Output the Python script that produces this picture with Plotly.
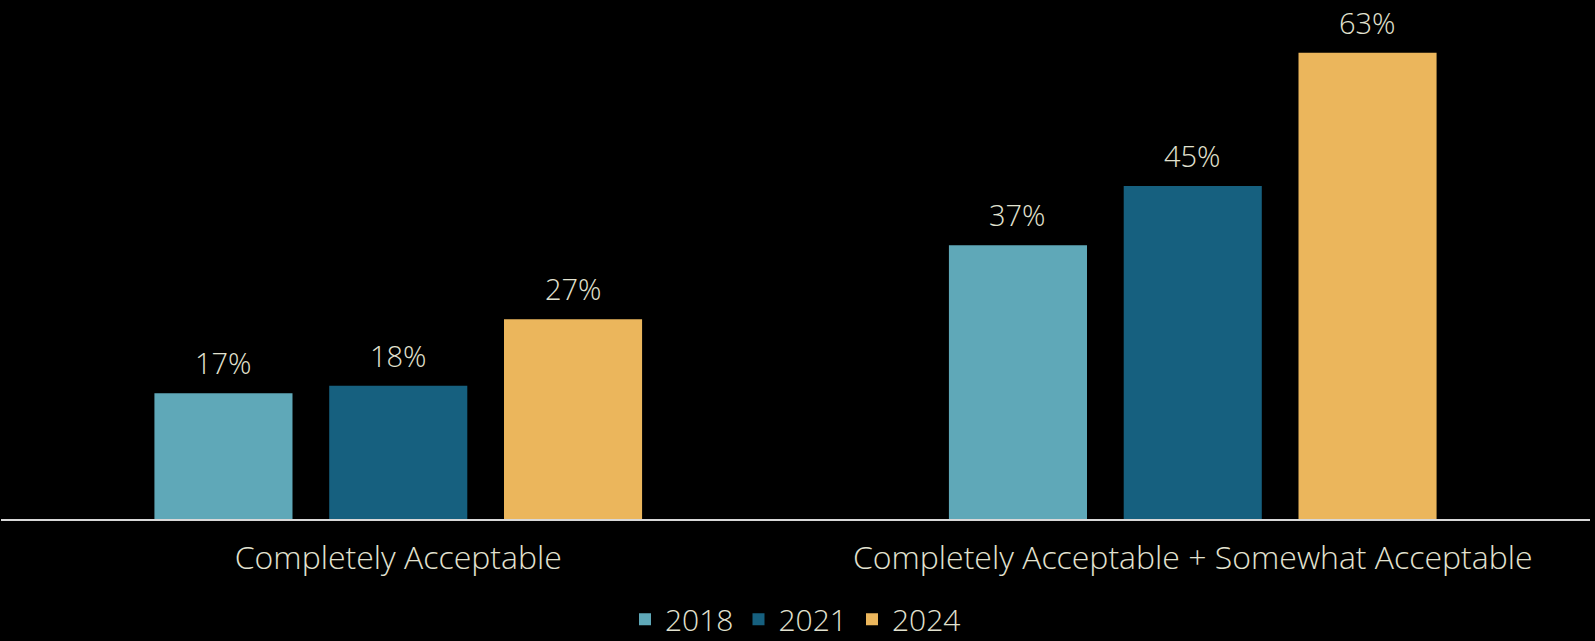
import plotly.graph_objects as go

categories = ['Completely Acceptable', 'Completely Acceptable + Somewhat Acceptable']
years = ['2018', '2021', '2024']
values_2018 = [17, 37]
values_2021 = [18, 45]
values_2024 = [27, 63]
colors = ['#5fa8b8', '#16607f', '#ebb65c']

text_color = '#e2e2d0'
font_family = 'Open Sans, sans-serif'
font_size = 32
bargap = 0.34

fig = go.Figure()
series = [values_2018, values_2021, values_2024]
for name, vals, col in zip(years, series, colors):
    fig.add_trace(go.Bar(
        x = categories,
        y = vals,
        name = name,
        marker_color = col,
        marker_line_width = 0,
    ))

# value labels above the bars, a bit further up than plotly's outside text
slot = (1 - bargap) / len(years)
for i, vals in enumerate(series):
    for ci, v in enumerate(vals):
        fig.add_annotation(
            x = ci + (i - 1) * slot,
            y = v,
            text = f'{v}%',
            showarrow = False,
            yanchor = 'bottom',
            yshift = 9,
            font = dict(size = 29, color = text_color,
                        family = font_family, weight = 300),
        )

fig.update_layout(
    width = 1595,
    height = 641,
    paper_bgcolor = 'black',
    plot_bgcolor = 'black',
    margin = dict(l = 1, r = 5, t = 1, b = 122),
    barmode = 'group',
    bargap = bargap,
    bargroupgap = 0.21,
    font = dict(family = font_family, color = text_color, size = font_size, weight = 300),
    showlegend = True,
    legend = dict(
        orientation = 'h',
        x = 0.5, xanchor = 'center',
        yref = 'container',
        y = 0.034, yanchor = 'middle',
        font = dict(size = 30, color = text_color),
        itemwidth = 30,
    ),
    xaxis = dict(
        showline = True,
        linecolor = '#d8d8d8',
        linewidth = 2,
        showgrid = False,
        ticks = '',
        automargin = False,
        ticklabelstandoff = 10,
        tickfont = dict(size = font_size, color = text_color),
    ),
    yaxis = dict(
        range = [0, 70],
        visible = False,
        showgrid = False,
        zeroline = False,
        automargin = False,
    ),
)

fig.write_html(
    'out.html',
    config = {'displayModeBar': False},
    post_script = "document.body.style.margin='0';document.body.style.background='black';",
)
